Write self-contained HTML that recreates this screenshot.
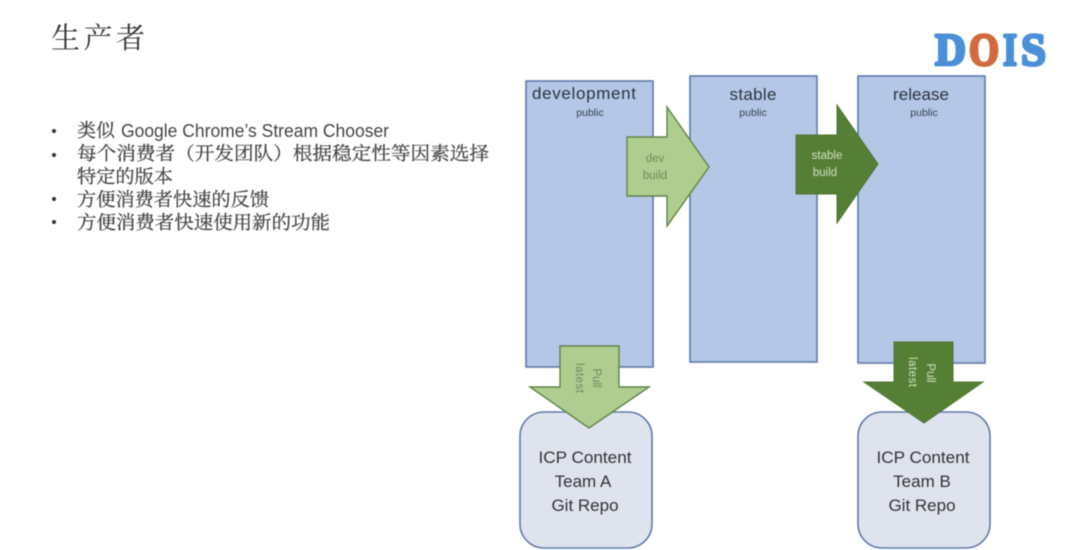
<!DOCTYPE html>
<html><head><meta charset="utf-8">
<style>
html,body{margin:0;padding:0;background:#fff;width:1080px;height:550px;overflow:hidden}
svg{display:block;filter:blur(0.4px)}
text{font-family:"Liberation Sans","Noto Sans CJK SC",sans-serif}
.c{text-anchor:middle}
.b{font-size:18px;fill:#444}
text.z{font-family:"Noto Serif CJK SC",serif;font-size:18.5px;fill:#444;stroke:#444;stroke-width:.25}
text.l{font-family:"Liberation Serif",serif;font-size:46px;font-weight:bold;stroke-width:3;stroke-linejoin:round}
</style></head><body>
<svg width="1080" height="550" viewBox="0 0 1080 550" xmlns="http://www.w3.org/2000/svg">
<text x="51" y="48" font-size="29" fill="#333" style="font-family:'Noto Serif CJK SC',serif" textLength="94">生产者</text>

<text class="l" x="935" y="65" fill="#4a8fd8" stroke="#4a8fd8" textLength="31" lengthAdjust="spacingAndGlyphs">D</text>
<text class="l" x="969" y="65" fill="#d2693f" stroke="#d2693f" textLength="30" lengthAdjust="spacingAndGlyphs">O</text>
<text class="l" x="1003" y="65" fill="#4a8fd8" stroke="#4a8fd8" textLength="14" lengthAdjust="spacingAndGlyphs">I</text>
<text class="l" x="1021" y="65" fill="#4a8fd8" stroke="#4a8fd8" textLength="25" lengthAdjust="spacingAndGlyphs">S</text>

<g fill="#333">
<circle cx="54" cy="131" r="2"/><circle cx="54" cy="155" r="2"/><circle cx="54" cy="199" r="2"/><circle cx="54" cy="222" r="2"/>
</g>
<text class="z" x="77" y="137" textLength="38" lengthAdjust="spacingAndGlyphs">类似</text>
<text class="b" x="121" y="137" textLength="268" lengthAdjust="spacingAndGlyphs">Google Chrome’s Stream Chooser</text>
<text class="z" x="77" y="160" textLength="412" lengthAdjust="spacingAndGlyphs">每个消费者（开发团队）根据稳定性等因素选择</text>
<text class="z" x="77" y="183" textLength="96" lengthAdjust="spacingAndGlyphs">特定的版本</text>
<text class="z" x="77" y="206" textLength="192" lengthAdjust="spacingAndGlyphs">方便消费者快速的反馈</text>
<text class="z" x="77" y="229" textLength="253" lengthAdjust="spacingAndGlyphs">方便消费者快速使用新的功能</text>

<g fill="#b4c7e7" stroke="#5f7aa8" stroke-width="1.6">
<rect x="526" y="81" width="127" height="286"/>
<rect x="690" y="76" width="127" height="286"/>
<rect x="858" y="76" width="127" height="287"/>
</g>

<g fill="#dfe3ee" stroke="#5f7aa8" stroke-width="1.6">
<rect x="520" y="412" width="132" height="136" rx="24"/>
<rect x="858" y="412" width="132" height="136" rx="24"/>
</g>

<polygon points="627,137 667,137 667,107 709,167 667,226 667,196 627,196" fill="#b0cd90" stroke="#5f8448" stroke-width="1.4"/>
<polygon points="796,135 837,135 837,105 878,164 837,223 837,194 796,194" fill="#567f36" stroke="#4f7632" stroke-width="1"/>
<polygon points="560,346 619,346 619,387 649,387 589,428 530,387 560,387" fill="#b0cd90" stroke="#5f8448" stroke-width="1.4"/>
<polygon points="894,342 953,342 953,382 983,382 924,423 864,382 894,382" fill="#567f36" stroke="#4f7632" stroke-width="1"/>

<g fill="#2c3440">
<text x="532" y="99" font-size="17" textLength="104">development</text>
<text class="c" x="753" y="100" font-size="17" textLength="47">stable</text>
<text class="c" x="921" y="100" font-size="17" textLength="56">release</text>
</g>
<g fill="#3a4250" font-size="10.5">
<text class="c" x="590" y="116">public</text>
<text class="c" x="753" y="116">public</text>
<text class="c" x="924" y="116">public</text>
</g>

<g fill="#6f8a5c" font-size="11.5">
<text class="c" x="655" y="162">dev</text>
<text class="c" x="655" y="179">build</text>
</g>
<g fill="#cfe0bf" font-size="11.5">
<text class="c" x="827" y="159">stable</text>
<text class="c" x="825" y="176">build</text>
</g>

<g fill="#6f8a5c" font-size="11.5">
<text class="c" transform="translate(593,378) rotate(90)">Pull</text>
<text class="c" transform="translate(576,378) rotate(90)" textLength="30">latest</text>
</g>
<g fill="#cfe0bf" font-size="11.5">
<text class="c" transform="translate(927,373) rotate(90)">Pull</text>
<text class="c" transform="translate(909,372) rotate(90)" textLength="30">latest</text>
</g>

<g fill="#333" font-size="17">
<text class="c" x="585" y="463" textLength="93" lengthAdjust="spacingAndGlyphs">ICP Content</text>
<text class="c" x="583" y="487">Team A</text>
<text class="c" x="585" y="511">Git Repo</text>
<text class="c" x="923" y="463" textLength="93" lengthAdjust="spacingAndGlyphs">ICP Content</text>
<text class="c" x="922" y="487">Team B</text>
<text class="c" x="922" y="511">Git Repo</text>
</g>
</svg>
</body></html>
